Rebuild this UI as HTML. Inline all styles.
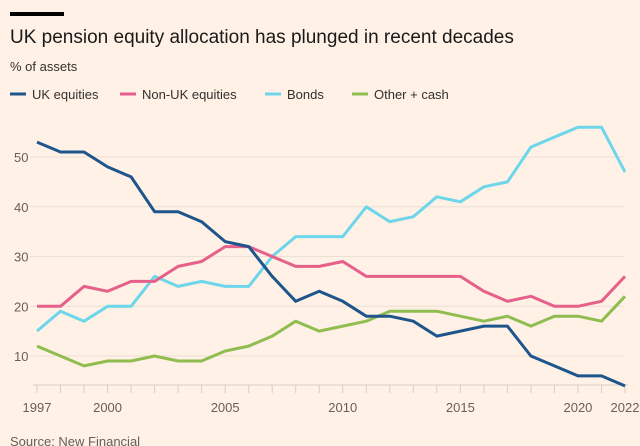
<!DOCTYPE html>
<html><head><meta charset="utf-8"><style>
body{margin:0;background:#fff1e5;font-family:"Liberation Sans",sans-serif;}
#wrap{position:relative;width:640px;height:446px;overflow:hidden;background:#fff1e5;}
</style></head><body>
<div id="wrap">
<svg id="chart" width="640" height="446"></svg>
</div>
<script>
const years=[1997,1998,1999,2000,2001,2002,2003,2004,2005,2006,2007,2008,2009,2010,2011,2012,2013,2014,2015,2016,2017,2018,2019,2020,2021,2022];
const ukEquities=[53,51,51,48,46,39,39,37,33,32,26,21,23,21,18,18,17,14,15,16,16,10,8,6,6,4];
const nonUkEquities=[20,20,24,23,25,25,28,29,32,32,30,28,28,29,26,26,26,26,26,23,21,22,20,20,21,26];
const bonds=[15,19,17,20,20,26,24,25,24,24,30,34,34,34,40,37,38,42,41,44,45,52,54,56,56,47];
const otherCash=[12,10,8,9,9,10,9,9,11,12,14,17,15,16,17,19,19,19,18,17,18,16,18,18,17,22];
const yTicks=[10,20,30,40,50];
const xTickLabels=[1997,2000,2005,2010,2015,2020,2022];
const seriesNames=["UK equities","Non-UK equities","Bonds","Other + cash"];

const NS="http://www.w3.org/2000/svg";
const svg=document.getElementById('chart');
const x=y=>37+(y-1997)*(625-37)/25;
const yv=v=>157+(50-v)*(356-157)/40;
function mk(t,a){const e=document.createElementNS(NS,t);for(const k in a)e.setAttribute(k,a[k]);svg.appendChild(e);return e;}

let e=mk('rect',{x:10,y:12,width:54,height:4,fill:'#000'});


e=mk('text',{x:10,y:43,'font-size':19,fill:'#1a1a1a'});e.textContent='UK pension equity allocation has plunged in recent decades';


e=mk('text',{x:10,y:71,'font-size':13,fill:'#33302e'});e.textContent='% of assets';



const colors=['#1e558c','#e5608a','#6dd6ea','#8fbd4f'];
const legX=[10,120,265,352];
seriesNames.forEach((n,i)=>{
  let l=mk('line',{x1:legX[i],x2:legX[i]+16,y1:94,y2:94,stroke:colors[i],'stroke-width':3});
  
  
  let t=mk('text',{x:legX[i]+22,y:99,'font-size':13,fill:'#33302e'});t.textContent=n;
  
  
});

yTicks.forEach(v=>{
  let g=mk('line',{x1:30,x2:625,y1:yv(v),y2:yv(v),stroke:'#ece0d5','stroke-width':1});
  
  
  let t=mk('text',{x:14,y:yv(v)+5,'font-size':13,fill:'#66605c'});t.textContent=v;
  
  
});
e=mk('line',{x1:33,x2:628,y1:385,y2:385,stroke:'#d9cdc3','stroke-width':1});


years.forEach(yr=>{
  let t=mk('line',{x1:x(yr),x2:x(yr),y1:385,y2:393,stroke:'#d9cdc3','stroke-width':1});
  
  
});
xTickLabels.forEach(yr=>{
  let t=mk('text',{x:x(yr),y:412,'font-size':13,fill:'#66605c','text-anchor':'middle'});t.textContent=yr;
  
  
});

const data=[ukEquities,nonUkEquities,bonds,otherCash];
const order=[3,2,1,0];
order.forEach(i=>{
  const d=data[i].map((v,j)=>(j?'L':'M')+x(years[j]).toFixed(1)+','+yv(v).toFixed(1)).join('');
  let p=mk('path',{d:d,fill:'none',stroke:colors[i],'stroke-width':3,'stroke-linejoin':'round'});
  
  
});

e=mk('text',{x:10,y:446,'font-size':13,fill:'#66605c'});e.textContent='Source: New Financial';


</script>
</body></html>
